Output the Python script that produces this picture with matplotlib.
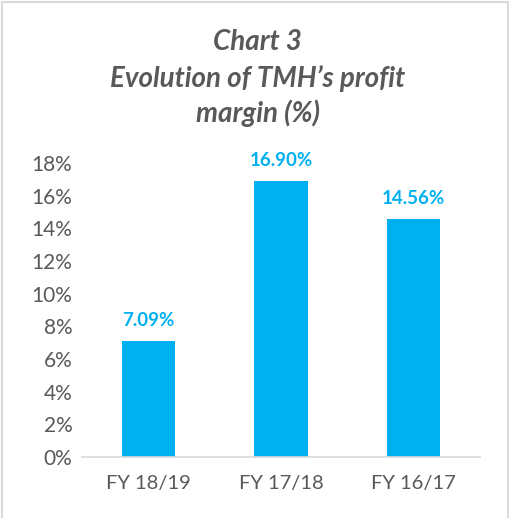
import matplotlib

matplotlib.use("Agg")
import matplotlib.pyplot as plt
from matplotlib.lines import Line2D
from matplotlib.ticker import FuncFormatter

categories = ["FY 18/19", "FY 17/18", "FY 16/17"]
margins = [7.09, 16.90, 14.56]
title_lines = ["Chart 3", "Evolution of TMH\u2019s profit", "margin (%)"]

BAR_COLOR = "#00B0F0"
TEXT_GRAY = "#595959"
AXIS_GRAY = "#D9D9D9"

plt.rcParams["font.family"] = ["Lato", "DejaVu Sans"]

fig = plt.figure(figsize=(5.10, 5.18), dpi=100)
axis = fig.add_axes([0.161, 0.118, 0.78, 0.567])

positions = range(len(categories))
axis.bar(positions, margins, width=0.4, color=BAR_COLOR)
for pos, value in zip(positions, margins):
    axis.text(pos, value + 0.75, f"{value:.2f}%", ha="center", va="bottom",
              fontsize=13.5, fontweight="bold", color=BAR_COLOR)

axis.set_xlim(-0.5, len(categories) - 0.5)
axis.set_ylim(0, 18)
axis.set_yticks(range(0, 19, 2))
axis.yaxis.set_major_formatter(FuncFormatter(lambda v, _: f"{v:.0f}%"))
axis.set_xticks(list(positions))
axis.set_xticklabels(categories)
axis.tick_params(axis="x", length=0, labelsize=14.5, colors=TEXT_GRAY, pad=13)
axis.tick_params(axis="y", length=0, labelsize=15, colors=TEXT_GRAY, pad=7)

for side in ("top", "right", "left"):
    axis.spines[side].set_visible(False)
axis.spines["bottom"].set_color(AXIS_GRAY)
axis.spines["bottom"].set_linewidth(1.2)

title_y = [0.918, 0.849, 0.782]
for line, y in zip(title_lines, title_y):
    fig.text(0.505, y, line, ha="center", va="center", fontsize=20,
             fontweight="bold", fontstyle="italic", color=TEXT_GRAY)

# chart frame (left, top, right edges)
frame_x = [0.003, 0.003, 0.997, 0.997]
frame_y = [-0.01, 0.997, 0.997, -0.01]
fig.add_artist(Line2D(frame_x, frame_y, color=AXIS_GRAY, linewidth=1.5,
                      transform=fig.transFigure))

fig.savefig("out.png", dpi=100)
plt.close(fig)
